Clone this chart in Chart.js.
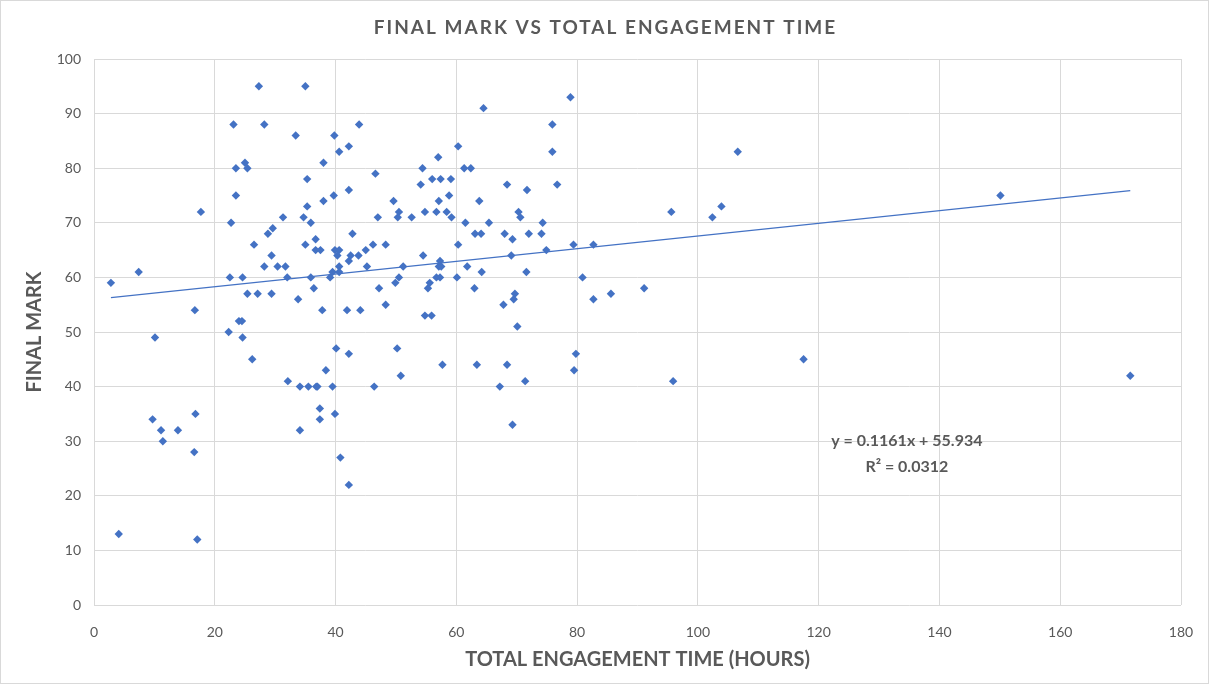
<!DOCTYPE html>
<html>
<head>
<meta charset="utf-8">
<title>Final mark vs total engagement time</title>
<script src="https://cdn.jsdelivr.net/npm/chart.js@4/dist/chart.umd.min.js"></script>
<style>
  html, body { margin: 0; padding: 0; background: #ffffff; }
  #wrap { width: 1209px; height: 684px; }
</style>
</head>
<body>
<div id="wrap"><canvas id="markChart" width="1209" height="684"></canvas></div>
<script>
// Engagement hours per student (x) and final mark (y)
const hours = [
  2.8, 7.4, 4.1, 9.7, 10.1, 11.1, 11.4, 13.9, 16.6, 16.7, 16.8, 17.1, 17.7,
  22.3, 22.5, 22.7, 23.1, 23.5, 23.5, 24.0, 24.5, 24.6, 24.6, 25.0, 25.4, 25.4,
  26.2, 26.5, 27.1, 27.3, 28.2, 28.2, 28.8, 29.4, 29.4, 29.6, 30.4, 31.3, 31.7,
  32.0, 32.1, 33.4, 33.8, 34.1, 34.1, 34.7, 35.0, 35.0, 35.3, 35.3, 35.5, 35.9,
  35.9, 36.4, 36.7, 36.7, 36.8, 37.0, 37.4, 37.4, 37.5, 37.8, 38.0, 38.0, 38.4,
  39.1, 39.5, 39.5, 39.7, 39.8, 39.9, 39.9, 40.1, 40.3, 40.6, 40.6, 40.6, 40.6,
  40.8, 41.9, 42.2, 42.2, 42.2, 42.2, 42.2, 42.5, 42.8, 43.8, 43.9, 44.1, 45.0,
  45.2, 46.2, 46.4, 46.6, 47.0, 47.2, 48.3, 48.3, 49.6, 49.9, 50.2, 50.3, 50.5,
  50.5, 50.8, 51.2, 52.6, 54.1, 54.4, 54.5, 54.8, 54.8, 55.3, 55.6, 55.9, 56.0,
  56.7, 56.7, 57.0, 57.1, 57.1, 57.3, 57.4, 57.5, 57.3, 57.7, 58.4, 58.8, 59.1,
  59.2, 60.1, 60.3, 60.3, 61.3, 61.5, 61.8, 62.4, 63.0, 63.1, 63.4, 63.8, 64.1,
  64.2, 64.5, 65.4, 67.2, 67.8, 68.0, 68.4, 68.4, 69.1, 69.3, 69.3, 69.5, 69.7,
  70.1, 70.3, 70.6, 71.4, 71.6, 71.7, 72.0, 74.1, 74.3, 74.9, 75.9, 75.9, 76.7,
  78.9, 79.4, 79.5, 79.8, 80.9, 82.7, 82.7, 85.6, 91.1, 95.6, 95.9, 102.4, 103.9,
  106.6, 117.5, 150.1, 171.6
];
const marks = [
  59, 61, 13, 34, 49, 32, 30, 32, 28, 54, 35, 12, 72,
  50, 60, 70, 88, 80, 75, 52, 52, 60, 49, 81, 80, 57,
  45, 66, 57, 95, 88, 62, 68, 64, 57, 69, 62, 71, 62,
  60, 41, 86, 56, 40, 32, 71, 95, 66, 78, 73, 40, 70,
  60, 58, 67, 65, 40, 40, 36, 34, 65, 54, 81, 74, 43,
  60, 61, 40, 75, 86, 65, 35, 47, 64, 83, 65, 62, 61,
  27, 54, 84, 76, 63, 46, 22, 64, 68, 64, 88, 54, 65,
  62, 66, 40, 79, 71, 58, 66, 55, 74, 59, 47, 71, 72,
  60, 42, 62, 71, 77, 80, 64, 72, 53, 58, 59, 53, 78,
  72, 60, 82, 74, 62, 63, 78, 62, 60, 44, 72, 75, 78,
  71, 60, 84, 66, 80, 70, 62, 80, 58, 68, 44, 74, 68,
  61, 91, 70, 40, 55, 68, 77, 44, 64, 67, 33, 56, 57,
  51, 72, 71, 41, 61, 76, 68, 68, 70, 65, 88, 83, 77,
  93, 66, 43, 46, 60, 66, 56, 57, 58, 72, 41, 71, 73,
  83, 45, 75, 42
];

// Linear trendline end points as shown on the chart
const trendHours = [2.8, 171.6];
const trendMarks = [56.3, 75.9];
const trendLabel = ['y = 0.1161x + 55.934', 'R\u00b2 = 0.0312'];

const xTicks = [0, 20, 40, 60, 80, 100, 120, 140, 160, 180];
const yTicks = [0, 10, 20, 30, 40, 50, 60, 70, 80, 90, 100];

const chartTitle = 'FINAL MARK VS TOTAL ENGAGEMENT TIME';
const xTitle = 'TOTAL ENGAGEMENT TIME (HOURS)';
const yTitle = 'FINAL MARK';

const FONT = "Lato, 'Open Sans', sans-serif";
const GREY = '#595959';
const BLUE = '#4472C4';

// border, title and the equation text
const decorations = {
  id: 'decorations',
  beforeDraw(chart) {
    const ctx = chart.ctx;
    ctx.save();
    ctx.fillStyle = '#ffffff';
    ctx.fillRect(0, 0, chart.width, chart.height);
    ctx.strokeStyle = '#d9d9d9';
    ctx.lineWidth = 1;
    ctx.strokeRect(0.5, 0.5, chart.width - 1, chart.height - 1);
    ctx.restore();
  },
  afterDraw(chart) {
    const ctx = chart.ctx;
    const xs = chart.scales.x, ys = chart.scales.y;
    ctx.save();
    ctx.fillStyle = GREY;
    ctx.textAlign = 'center';
    ctx.textBaseline = 'middle';
    ctx.font = 'bold 19px ' + FONT;
    ctx.letterSpacing = '2px';
    ctx.fillText(chartTitle, chart.width / 2 + 1, 28);
    ctx.letterSpacing = '0px';
    ctx.font = 'bold 16px ' + FONT;
    const cx = xs.getPixelForValue(134.6);
    ctx.fillText(trendLabel[0], cx, ys.getPixelForValue(30.0));
    ctx.fillText(trendLabel[1], cx, ys.getPixelForValue(25.3));
    ctx.restore();
  }
};

const ctx = document.getElementById('markChart').getContext('2d');
new Chart(ctx, {
  type: 'scatter',
  data: {
    datasets: [
      {
        label: 'Final mark',
        data: hours.map((h, i) => ({ x: h, y: marks[i] })),
        pointStyle: 'rectRot',
        pointRadius: 4.2,
        pointBorderWidth: 0,
        backgroundColor: BLUE,
        borderColor: BLUE,
        order: 1
      },
      {
        label: 'Linear trend',
        type: 'line',
        data: trendHours.map((h, i) => ({ x: h, y: trendMarks[i] })),
        borderColor: BLUE,
        borderWidth: 1.2,
        pointRadius: 0,
        fill: false,
        order: 2
      }
    ]
  },
  options: {
    responsive: false,
    animation: false,
    layout: { padding: { top: 59, right: 28, bottom: 0, left: 0 } },
    plugins: {
      legend: { display: false },
      title: { display: false },
      tooltip: { enabled: false }
    },
    scales: {
      x: {
        type: 'linear',
        min: 0,
        max: 180,
        afterBuildTicks: s => { s.ticks = xTicks.map(v => ({ value: v })); },
        afterFit: s => { s.height = 79; s.paddingLeft = 0; s.paddingRight = 0; },
        border: { display: false },
        grid: { color: '#d9d9d9', lineWidth: 1, drawTicks: false },
        ticks: { color: GREY, font: { family: FONT, size: 14 }, padding: 19, maxRotation: 0 },
        title: {
          display: true,
          text: xTitle,
          color: GREY,
          font: { family: FONT, size: 20, weight: 'bold' },
          padding: 12
        }
      },
      y: {
        type: 'linear',
        min: 0,
        max: 100,
        afterBuildTicks: s => { s.ticks = yTicks.map(v => ({ value: v })); },
        afterFit: s => { s.width = 94; s.paddingTop = 0; s.paddingBottom = 0; },
        border: { display: false },
        grid: { color: '#d9d9d9', lineWidth: 1, drawTicks: false },
        ticks: { color: GREY, font: { family: FONT, size: 14 }, padding: 13 },
        title: {
          display: true,
          text: yTitle,
          color: GREY,
          font: { family: FONT, size: 20, weight: 'bold' },
          padding: 23
        }
      }
    }
  },
  plugins: [decorations]
});
</script>
</body>
</html>
